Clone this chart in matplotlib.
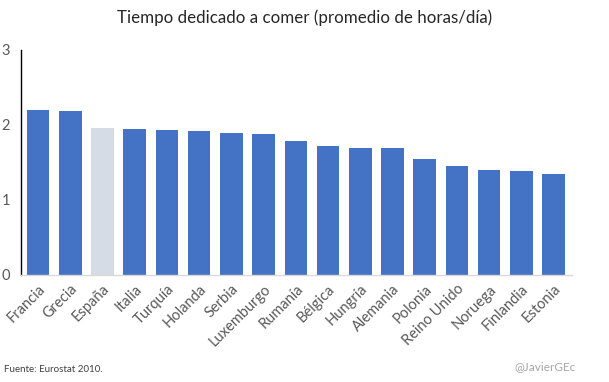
import matplotlib.pyplot as plt

plt.rcParams['font.family'] = ['Lato', 'DejaVu Sans']

paises = ["Francia", "Grecia", "España", "Italia", "Turquía", "Holanda", "Serbia",
          "Luxemburgo", "Rumanía", "Bélgica", "Hungría", "Alemania", "Polonia",
          "Reino Unido", "Noruega", "Finlandia", "Estonia"]
horas = [2.19, 2.18, 1.955, 1.94, 1.93, 1.915, 1.89, 1.875, 1.78, 1.715, 1.69,
         1.69, 1.54, 1.45, 1.40, 1.38, 1.34]
destacado = "España"

colores = ["#D6DCE5" if p == destacado else "#4472C4" for p in paises]

fig = plt.figure(figsize=(6.09, 3.82), dpi=100)
ax = fig.add_axes([21/609, 1 - 275/382, (572 - 21)/609, (275 - 49.5)/382])

x = range(len(paises))
ax.bar(x, horas, width=0.7, color=colores)
ax.set_xlim(-0.53, 16.57)
ax.set_ylim(0, 3)
ax.set_yticks([0, 1, 2, 3])
ax.set_xticks(list(x))
ax.set_xticklabels(paises, rotation=45, ha='right', rotation_mode='anchor')
ax.tick_params(axis='both', length=0, labelsize=10.5, colors='#595959')
ax.tick_params(axis='y', pad=8)
ax.tick_params(axis='x', pad=5)

for s in ['top', 'right']:
    ax.spines[s].set_visible(False)
ax.spines['left'].set_color('black')
ax.spines['left'].set_linewidth(1)
ax.spines['bottom'].set_color('#D9D9D9')
ax.spines['bottom'].set_linewidth(1)

fig.text(0.5, 1 - 18/382, "Tiempo dedicado a comer (promedio de horas/día)",
         ha='center', va='center', fontsize=12.2, color='#262626')
fig.text(4/609, 1 - 369/382, "Fuente: Eurostat 2010.", ha='left', va='center',
         fontsize=7, color='#404040')
fig.text(576/609, 1 - 367/382, "@JavierGEc", ha='right', va='center',
         fontsize=8.5, color='#A6A6A6')

fig.savefig("out.png", dpi=100)
